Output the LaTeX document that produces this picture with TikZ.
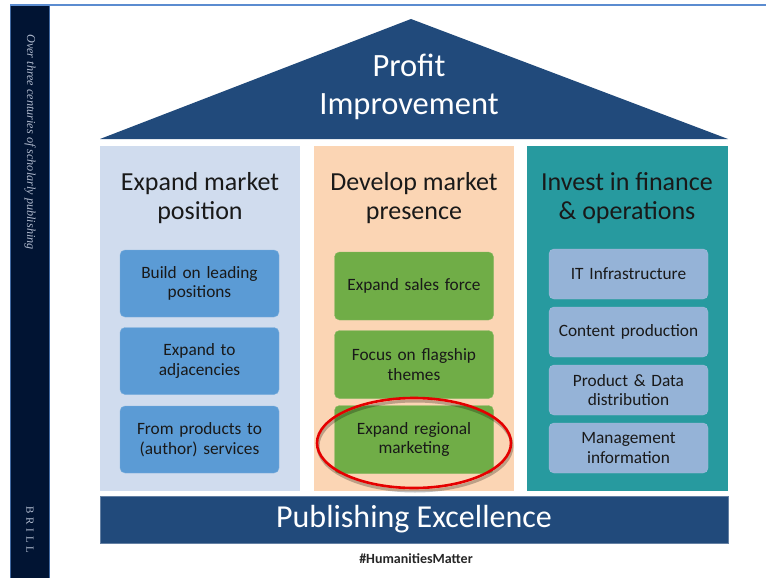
\documentclass[tikz,border=0pt]{standalone}
\usepackage{fontspec}
\setmainfont{Carlito}
\newfontfamily\brillfont{Liberation Serif}
\usetikzlibrary{positioning}

\definecolor{navy}{HTML}{011433}
\definecolor{roofblue}{HTML}{214A7B}
\definecolor{topline}{HTML}{5B8CD0}
\definecolor{colgray}{HTML}{D0DCEE}
\definecolor{colpeach}{HTML}{FBD5B4}
\definecolor{colteal}{HTML}{279A9F}
\definecolor{boxblue}{HTML}{5B9BD5}
\definecolor{boxgreen}{HTML}{70AD47}
\definecolor{boxsteel}{HTML}{95B3D7}
\definecolor{sidetext}{HTML}{AEB8CC}

\tikzset{
  coltitle/.style={font=\fontsize{26}{29}\selectfont, text=black!90, align=center},
  itembox/.style={rounded corners=5pt, minimum width=159pt, text width=155pt,
    align=center, font=\fontsize{17.3}{19.5}\selectfont, text=black!90, inner sep=0pt},
  bluebox/.style={itembox, fill=boxblue, draw=boxblue!80!white, minimum height=67pt},
  greenbox/.style={itembox, fill=boxgreen, draw=boxgreen!85!white, minimum height=68pt},
  steelbox/.style={itembox, fill=boxsteel, draw=boxsteel!85!white, minimum height=50pt}
}

\begin{document}
\begin{tikzpicture}[x=1pt,y=-1pt]
  \useasboundingbox (0,0) rectangle (766,578);
  \fill[white] (0,0) rectangle (766,578);

  % side band
  \fill[navy] (10,5) rectangle (50,578);
  \draw[topline!70!navy, line width=0.8pt] (10.4,5) -- (10.4,578);
  \draw[topline!70!navy, line width=0.8pt] (49.6,5) -- (49.6,578);
  \draw[topline, line width=1.5pt] (10,5) -- (766,5);
  \node[rotate=-90, text=sidetext, font=\brillfont\itshape\fontsize{12.2}{14}\selectfont]
    (motto) at (30,142) {Over three centuries of scholarly publishing};
  \node[rotate=-90, text=sidetext, font=\brillfont\fontsize{11}{12}\selectfont\addfontfeature{LetterSpace=35}]
    (brill) at (30,530) {BRILL};

  % roof
  \fill[roofblue] (100,139) -- (411,19) -- (728,139) -- cycle;
  \node[text=white, align=center, font=\fontsize{32.5}{38}\selectfont] (roof) at (409,87)
    {Profit\\Improvement};

  % columns
  \fill[colgray] (100,146) rectangle (300,491);
  \fill[colpeach] (314,146) rectangle (514,491);
  \fill[colteal] (527,146) rectangle (728,491);
  \node[coltitle] (title1) at (200,198) {Expand market\\position};
  \node[coltitle] (title2) at (414,198) {Develop market\\presence};
  \node[coltitle] (title3) at (627,198) {Invest in finance\\\& operations};

  % pillar boxes
  \node[bluebox] (build) at (199.5,283.5) {Build on leading\\positions};
  \node[bluebox] (adjac) at (199.5,361) {Expand to\\adjacencies};
  \node[bluebox] (serv) at (199.5,439.5) {From products to\\(author) services};

  \node[greenbox] (sales) at (414,286) {Expand sales force};
  \node[greenbox] (flag) at (414,364.5) {Focus on flagship\\themes};
  \node[greenbox] (region) at (414,439.5) {Expand regional\\marketing};

  \node[steelbox] (infra) at (628.5,274) {IT Infrastructure};
  \node[steelbox] (content) at (628.5,332) {Content production};
  \node[steelbox] (distr) at (628.5,390) {Product \& Data\\distribution};
  \node[steelbox] (mgmt) at (628.5,448) {Management\\information};

  % highlight
  \draw[black, opacity=0.25, line width=3pt] (415,446) ellipse [x radius=97, y radius=45];
  \draw[red!90!black, line width=2.6pt] (414,443) ellipse [x radius=97, y radius=45];

  % foundation
  \fill[roofblue] (100,496) rectangle (728,543);
  \draw[roofblue!70!white, line width=0.6pt] (100,496) rectangle (728,543);
  \node[text=white, font=\fontsize{32}{36}\selectfont] (base) at (414,519) {Publishing Excellence};
  \node[font=\bfseries\fontsize{14}{16}\selectfont, text=black!85] (tag) at (416,559) {\#HumanitiesMatter};
\end{tikzpicture}
\end{document}
